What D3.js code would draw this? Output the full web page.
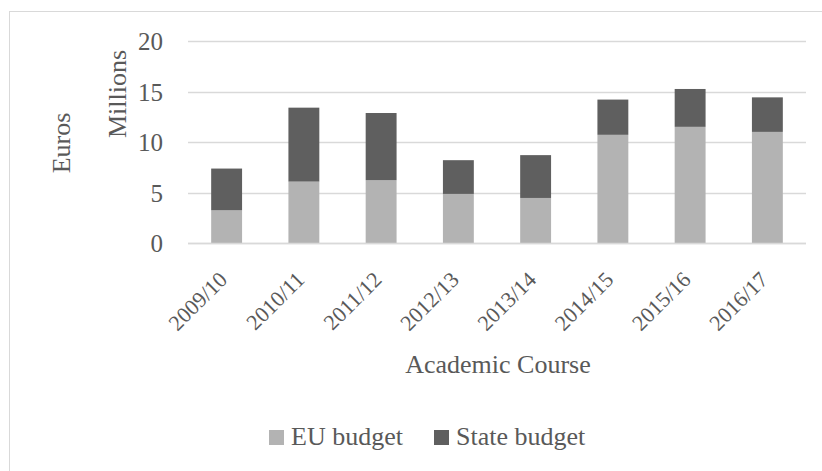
<!DOCTYPE html>
<html>
<head>
<meta charset="utf-8">
<script src="https://cdn.jsdelivr.net/npm/d3@7"></script>
<style>
  body { margin: 0; background: #fff; }
  text { font-family: "Liberation Serif", "DejaVu Serif", serif; fill: #595959; }
</style>
</head>
<body>
<div id="chart"></div>
<script>
// Data (millions of euros)
var courses = ["2009/10", "2010/11", "2011/12", "2012/13", "2013/14", "2014/15", "2015/16", "2016/17"];
var euBudget = [3.24, 6.08, 6.22, 4.86, 4.46, 10.71, 11.5, 11.0];
var stateBudget = [4.13, 7.32, 6.65, 3.34, 4.24, 3.49, 3.75, 3.42];
var yTicks = [0, 5, 10, 15, 20];
var seriesNames = ["EU budget", "State budget"];
var seriesColors = ["#b3b3b3", "#5f5f5f"];

var svgWidth = 822;
var svgHeight = 471;

var chartMargin = { top: 41, left: 188, right: 16, bottom: 228 };
var chartWidth = svgWidth - chartMargin.left - chartMargin.right;
var chartHeight = svgHeight - chartMargin.top - chartMargin.bottom;

var svg = d3.select("#chart")
  .append("svg")
  .attr("width", svgWidth)
  .attr("height", svgHeight);

// outer chart border (right and bottom edges run off the picture)
svg.append("rect")
  .attr("x", 9.5)
  .attr("y", 11.5)
  .attr("width", 830)
  .attr("height", 480)
  .attr("fill", "none")
  .attr("stroke", "#d9d9d9");

var chartGroup = svg.append("g")
  .attr("transform", `translate(${chartMargin.left}, ${chartMargin.top})`);

var xScale = d3.scaleBand()
  .domain(courses)
  .range([0, chartWidth])
  .paddingInner(0.6)
  .paddingOuter(0.3);

var yScale = d3.scaleLinear()
  .domain([0, 20])
  .range([chartHeight, 0]);

// gridlines
chartGroup.append("g")
  .selectAll("line")
  .data(yTicks)
  .enter()
  .append("line")
  .attr("x1", 0)
  .attr("x2", chartWidth)
  .attr("y1", d => Math.round(yScale(d)) + 0.5)
  .attr("y2", d => Math.round(yScale(d)) + 0.5)
  .attr("stroke", "#d9d9d9")
  .attr("stroke-width", 1.3);

// y axis labels
var leftAxis = d3.axisLeft(yScale).tickValues(yTicks).tickSize(0).tickPadding(25);
var yAxis = chartGroup.append("g").call(leftAxis);
yAxis.select(".domain").remove();
yAxis.selectAll("text")
  .style("font-size", "25px")
  .attr("fill", null)
  .attr("dy", "0.35em");

// stacked bars
var rows = courses.map((c, i) => ({ course: c, eu: euBudget[i], state: stateBudget[i] }));
var stacked = d3.stack().keys(["eu", "state"])(rows);

chartGroup.selectAll(".series")
  .data(stacked)
  .enter()
  .append("g")
  .attr("fill", (d, i) => seriesColors[i])
  .selectAll("rect")
  .data(d => d)
  .enter()
  .append("rect")
  .attr("x", d => xScale(d.data.course))
  .attr("y", d => yScale(d[1]))
  .attr("width", xScale.bandwidth())
  .attr("height", d => yScale(d[0]) - yScale(d[1]));

// x axis line on top of bars
chartGroup.append("line")
  .attr("x1", 0)
  .attr("x2", chartWidth)
  .attr("y1", Math.round(chartHeight) + 0.5)
  .attr("y2", Math.round(chartHeight) + 0.5)
  .attr("stroke", "#d9d9d9")
  .attr("stroke-width", 1.3);

// x tick labels, rotated
chartGroup.append("g")
  .selectAll("text")
  .data(courses)
  .enter()
  .append("text")
  .attr("transform", d => `translate(${xScale(d) + xScale.bandwidth() / 2 - 9}, ${chartHeight + 27}) rotate(-45)`)
  .attr("text-anchor", "end")
  .attr("dy", "0.7em")
  .style("font-size", "22px")
  .text(d => d);

// axis titles
svg.append("text")
  .attr("transform", "translate(70, 143) rotate(-90)")
  .attr("text-anchor", "middle")
  .style("font-size", "26px")
  .text("Euros");

svg.append("text")
  .attr("transform", "translate(126, 94) rotate(-90)")
  .attr("text-anchor", "middle")
  .style("font-size", "26px")
  .text("Millions");

svg.append("text")
  .attr("x", 498)
  .attr("y", 373)
  .attr("text-anchor", "middle")
  .style("font-size", "26px")
  .text("Academic Course");

// legend
var legendX = [269, 434];
var legend = svg.selectAll(".legend")
  .data(seriesNames)
  .enter()
  .append("g")
  .attr("transform", (d, i) => `translate(${legendX[i]}, 430)`);

legend.append("rect")
  .attr("width", 15)
  .attr("height", 15)
  .attr("fill", (d, i) => seriesColors[i]);

legend.append("text")
  .attr("x", 22)
  .attr("y", 15)
  .style("font-size", "26px")
  .text(d => d);
</script>
</body>
</html>
